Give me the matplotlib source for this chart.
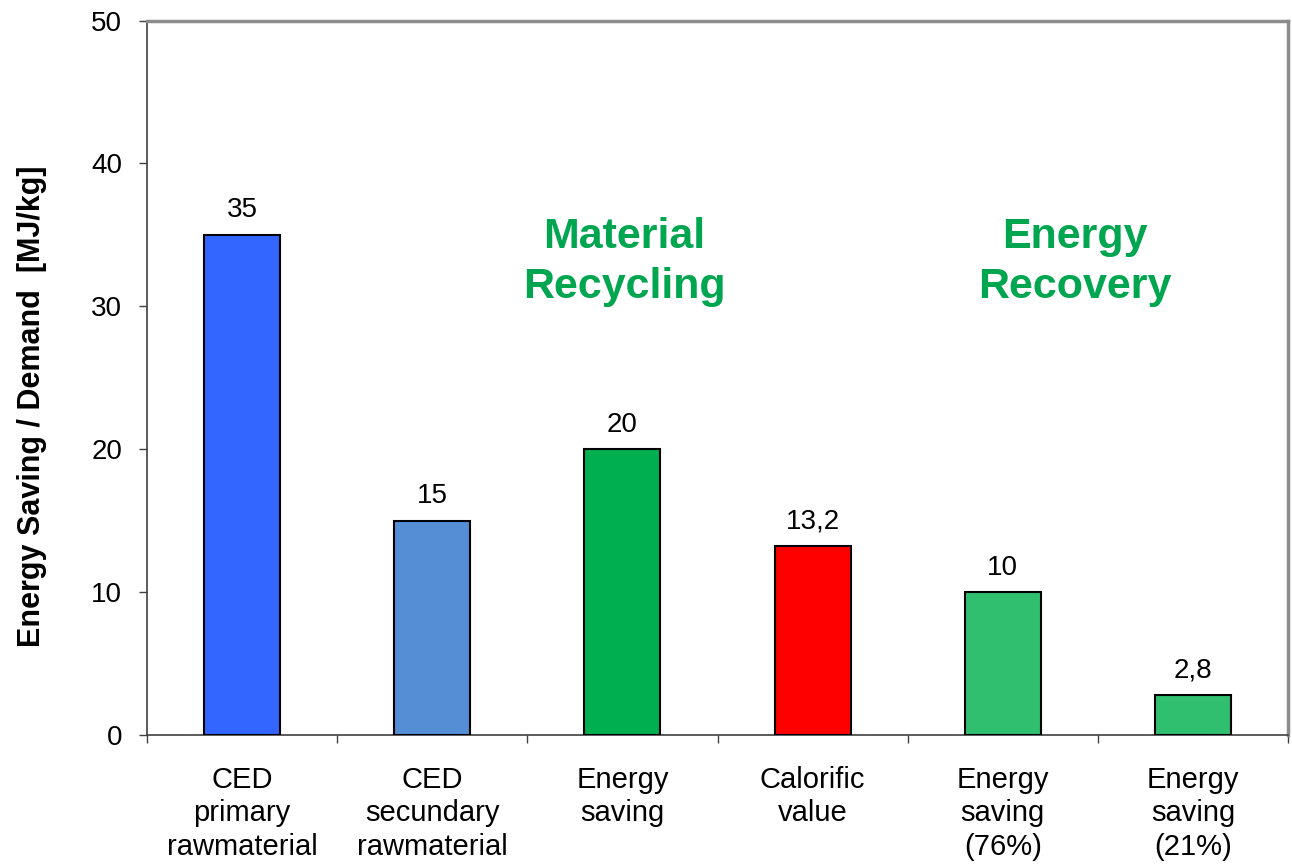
import matplotlib
matplotlib.use("Agg")
import matplotlib.pyplot as plt
import numpy as np

plt.rcParams['font.family'] = ['Liberation Sans', 'DejaVu Sans']

# Data
categories = ["CED\nprimary\nrawmaterial", "CED\nsecundary\nrawmaterial",
              "Energy\nsaving", "Calorific\nvalue",
              "Energy\nsaving\n(76%)", "Energy\nsaving\n(21%)"]
values = [35, 15, 20, 13.2, 10, 2.8]
value_labels = ["35", "15", "20", "13,2", "10", "2,8"]
colors = ["#3366FF", "#558ED5", "#00B050", "#FF0000", "#2FBF6F", "#2FBF6F"]

fig = plt.figure(figsize=(12.92, 8.65), dpi=100)
ax = fig.add_axes([0.1138, 0.1503, 0.8831, 0.8260])

x = np.arange(len(categories))
ax.bar(x, values, width=0.4, color=colors, edgecolor="black", linewidth=1.5, zorder=3)

for xi, v, lab in zip(x, values, value_labels):
    ax.text(xi, v + 0.8, lab, ha="center", va="bottom", fontsize=20)

ax.set_xlim(-0.5, len(categories) - 0.5)
ax.set_ylim(0, 50)
ax.set_yticks(range(0, 51, 10))
ax.tick_params(axis="y", labelsize=20, length=6, width=1, direction="out", color="#404040", pad=12)

# category labels centered, ticks at boundaries
ax.set_xticks(x)
ax.set_xticklabels(categories, fontsize=21, linespacing=1.25)
ax.tick_params(axis="x", which="major", length=0, pad=22)
ax.set_xticks(np.arange(-0.5, len(categories)), minor=True)
ax.tick_params(axis="x", which="minor", length=6, width=1, direction="out", color="#404040")

ax.set_ylabel("Energy Saving / Demand  [MJ/kg]", fontsize=22, fontweight="bold")
ax.yaxis.set_label_coords(-0.0875, 0.46)

for side in ["top", "right"]:
    ax.spines[side].set_color("#8C8C8C")
    ax.spines[side].set_linewidth(2.5)
for side in ["left", "bottom"]:
    ax.spines[side].set_color("#404040")
    ax.spines[side].set_linewidth(1.2)

green = "#00A550"
ax.text(2.01, 33.1, "Material\nRecycling", ha="center", va="center", fontsize=31,
        fontweight="bold", color=green, linespacing=1.3)
ax.text(4.38, 33.1, "Energy\nRecovery", ha="center", va="center", fontsize=31,
        fontweight="bold", color=green, linespacing=1.3)

fig.savefig("out.png", dpi=100)
